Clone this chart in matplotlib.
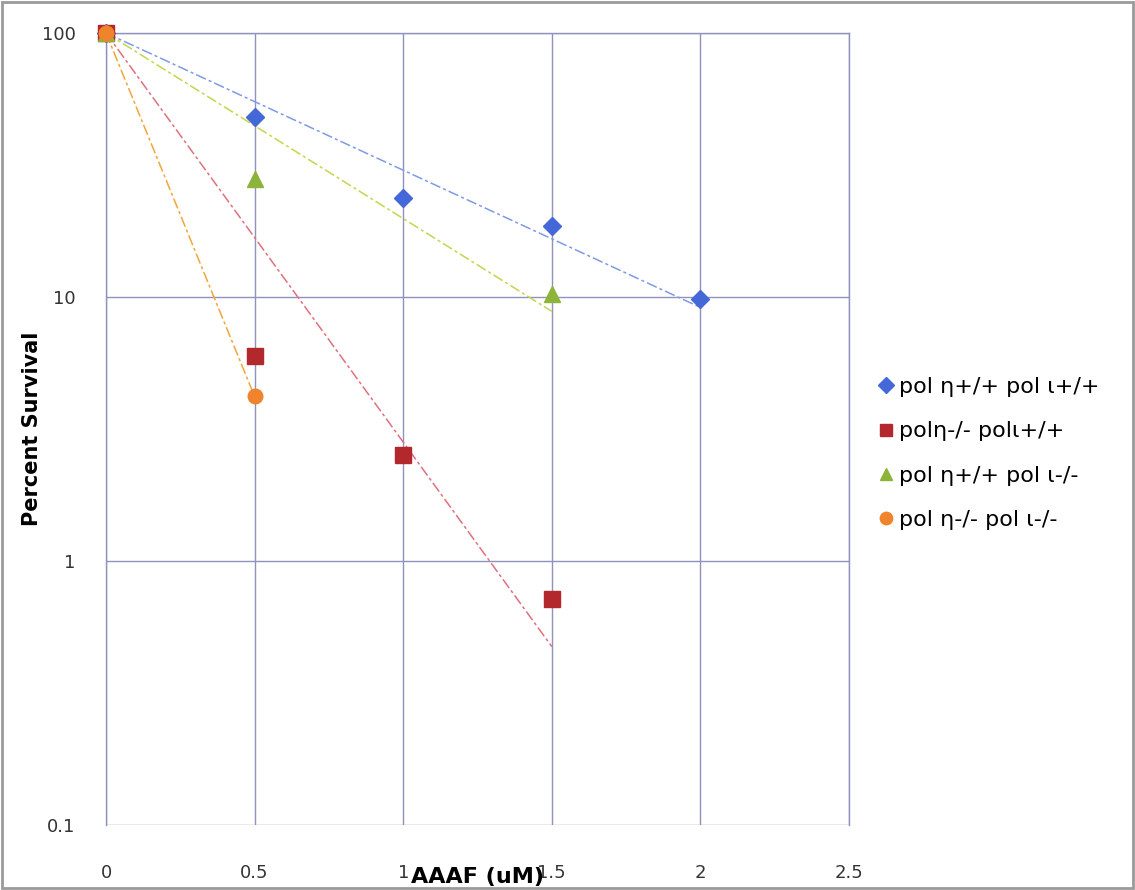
import numpy as np
import matplotlib
matplotlib.use("Agg")
import matplotlib.pyplot as plt
from matplotlib.patches import Rectangle

labels = ["pol \u03b7+/+ pol \u03b9+/+", "pol\u03b7-/- pol\u03b9+/+",
          "pol \u03b7+/+ pol \u03b9-/-", "pol \u03b7-/- pol \u03b9-/-"]
x_blue = [0, 0.5, 1.0, 1.5, 2.0]
y_blue = [100, 48, 23.7, 18.6, 9.8]
x_red = [0, 0.5, 1.0, 1.5]
y_red = [100, 6.0, 2.52, 0.72]
x_green = [0, 0.5, 1.5]
y_green = [100, 28, 10.3]
x_orange = [0, 0.5]
y_orange = [100, 4.2]
xticks = [0, 0.5, 1, 1.5, 2, 2.5]
xticklabels = ["0", "0.5", "1", "1.5", "2", "2.5"]
yticks = [0.1, 1, 10, 100]
yticklabels = ["0.1", "1", "10", "100"]

series = [
    (x_blue, y_blue, "D", "#4468d8", "#7f9ae6", 9),
    (x_red, y_red, "s", "#b3282c", "#e0707c", 11),
    (x_green, y_green, "^", "#8db43a", "#c5d64e", 11),
    (x_orange, y_orange, "o", "#f0842c", "#f2a638", 10.5),
]

fig = plt.figure(figsize=(11.35, 8.9), dpi=100)
ax = fig.add_axes([106/1135, 1-825/890, (849-106)/1135, (825-33)/890])
ax.set_yscale("log")
ax.set_xlim(0, 2.5)
ax.set_ylim(0.1, 100)

for xs, ys, m, c, lc, ms in series:
    xa = np.array(xs, float)
    la = np.log10(np.array(ys, float) / ys[0])
    b = np.sum(xa * la) / np.sum(xa * xa)
    xf = np.array([0, xa.max()])
    ax.plot(xf, ys[0] * 10 ** (b * xf), color=lc, lw=1.1, ls=(0, (7, 2, 2, 2)), zorder=2)
handles = []
for (xs, ys, m, c, lc, ms), lab in zip(series, labels):
    h, = ax.plot(xs, ys, ls="none", marker=m, ms=ms, color=c, mec=c, label=lab,
                 zorder=3, clip_on=False)
    handles.append(h)

ax.set_xticks(xticks)
ax.set_xticklabels(xticklabels)
ax.set_yticks(yticks)
ax.set_yticklabels(yticklabels)
ax.yaxis.set_minor_locator(matplotlib.ticker.NullLocator())
ax.tick_params(axis="both", length=0, labelsize=13, colors="#333333")
ax.tick_params(axis="x", pad=28)
ax.tick_params(axis="y", pad=22)
ax.grid(True, which="major", color="#8f92bf", lw=1.0)
for s in ["top", "right", "left"]:
    ax.spines[s].set_color("#8f92bf")
    ax.spines[s].set_linewidth(1.0)
ax.spines["bottom"].set_visible(False)

ax.set_xlabel("AAAF (uM)", fontsize=16, fontweight="bold")
ax.set_ylabel("Percent Survival", fontsize=15, fontweight="bold")
ax.xaxis.set_label_coords((477-106)/(849-106), -0.053)
ax.yaxis.set_label_coords(-(106-42)/(849-106), 0.5)

leg = fig.legend(handles=handles, loc="upper left", bbox_to_anchor=(870/1135, 1-368/890),
                 frameon=False, fontsize=16, handlelength=0.6, handletextpad=0.3,
                 labelspacing=1.1, borderaxespad=0, markerscale=0.85)

fig.patches.append(Rectangle((0.002, 0.002), 0.996, 0.996, transform=fig.transFigure,
                             fill=False, edgecolor="#9a9a9a", lw=2))
fig.savefig("out.png", dpi=100)
